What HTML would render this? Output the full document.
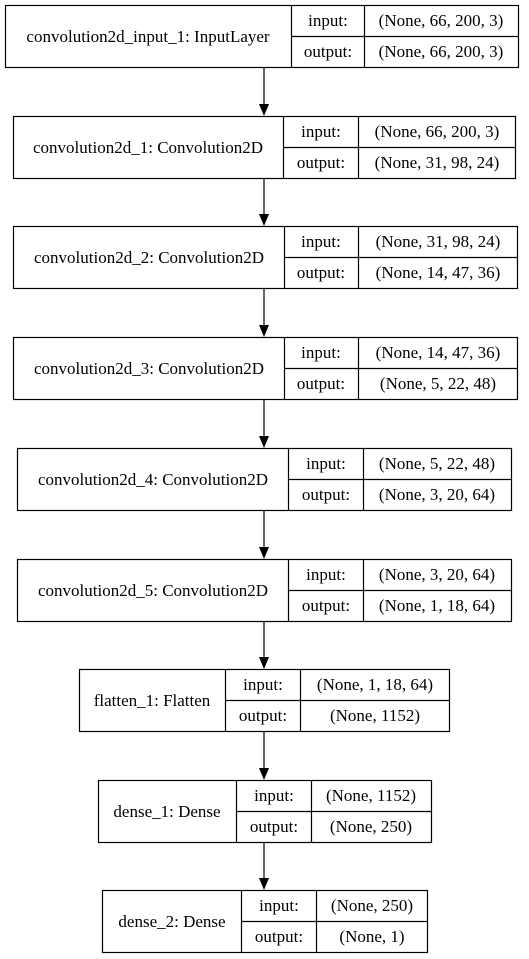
<!DOCTYPE html>
<html><head><meta charset="utf-8"><style>
html,body{margin:0;padding:0;background:#fff;}
svg{display:block;}
text{font-family:"Liberation Serif",serif;font-size:17px;fill:#000;}
</style></head><body>
<svg width="529" height="959" viewBox="0 0 529 959" xmlns="http://www.w3.org/2000/svg">
<g fill="none" stroke="#000" stroke-width="1.2">
<rect x="5.5" y="5.5" width="513" height="62"/><line x1="291.5" y1="5.5" x2="291.5" y2="67.5"/><line x1="364.5" y1="5.5" x2="364.5" y2="67.5"/><line x1="291.5" y1="36.5" x2="518.5" y2="36.5"/>
<rect x="13.5" y="116.5" width="502" height="62"/><line x1="283.5" y1="116.5" x2="283.5" y2="178.5"/><line x1="358.5" y1="116.5" x2="358.5" y2="178.5"/><line x1="283.5" y1="147.5" x2="515.5" y2="147.5"/>
<rect x="13.5" y="226.5" width="504" height="62"/><line x1="284.5" y1="226.5" x2="284.5" y2="288.5"/><line x1="358.5" y1="226.5" x2="358.5" y2="288.5"/><line x1="284.5" y1="257.5" x2="517.5" y2="257.5"/>
<rect x="13.5" y="337.5" width="504" height="62"/><line x1="284.5" y1="337.5" x2="284.5" y2="399.5"/><line x1="358.5" y1="337.5" x2="358.5" y2="399.5"/><line x1="284.5" y1="368.5" x2="517.5" y2="368.5"/>
<rect x="17.5" y="448.5" width="494" height="62"/><line x1="288.5" y1="448.5" x2="288.5" y2="510.5"/><line x1="363.5" y1="448.5" x2="363.5" y2="510.5"/><line x1="288.5" y1="479.5" x2="511.5" y2="479.5"/>
<rect x="17.5" y="559.5" width="494" height="62"/><line x1="288.5" y1="559.5" x2="288.5" y2="621.5"/><line x1="363.5" y1="559.5" x2="363.5" y2="621.5"/><line x1="288.5" y1="590.5" x2="511.5" y2="590.5"/>
<rect x="79.5" y="669.5" width="370" height="62"/><line x1="225.5" y1="669.5" x2="225.5" y2="731.5"/><line x1="300.5" y1="669.5" x2="300.5" y2="731.5"/><line x1="225.5" y1="700.5" x2="449.5" y2="700.5"/>
<rect x="98.5" y="780.5" width="333" height="62"/><line x1="236.5" y1="780.5" x2="236.5" y2="842.5"/><line x1="311.5" y1="780.5" x2="311.5" y2="842.5"/><line x1="236.5" y1="811.5" x2="431.5" y2="811.5"/>
<rect x="102.5" y="890.5" width="325" height="62"/><line x1="241.5" y1="890.5" x2="241.5" y2="952.5"/><line x1="316.5" y1="890.5" x2="316.5" y2="952.5"/><line x1="241.5" y1="921.5" x2="427.5" y2="921.5"/>
<line x1="264" y1="68" x2="264" y2="106"/>
<line x1="264" y1="179" x2="264" y2="216"/>
<line x1="264" y1="289" x2="264" y2="327"/>
<line x1="264" y1="400" x2="264" y2="438"/>
<line x1="264" y1="511" x2="264" y2="549"/>
<line x1="264" y1="622" x2="264" y2="659"/>
<line x1="264" y1="732" x2="264" y2="770"/>
<line x1="264" y1="843" x2="264" y2="880"/>
</g>
<g fill="#000">
<polygon points="259,104 269,104 264,116"/>
<polygon points="259,214 269,214 264,226"/>
<polygon points="259,325 269,325 264,337"/>
<polygon points="259,436 269,436 264,448"/>
<polygon points="259,547 269,547 264,559"/>
<polygon points="259,657 269,657 264,669"/>
<polygon points="259,768 269,768 264,780"/>
<polygon points="259,878 269,878 264,890"/>
</g>
<g text-anchor="middle">
<text x="148" y="42">convolution2d_input_1: InputLayer</text><text x="328" y="26">input:</text><text x="328" y="57">output:</text><text x="441" y="26">(None, 66, 200, 3)</text><text x="441" y="57">(None, 66, 200, 3)</text>
<text x="148" y="153">convolution2d_1: Convolution2D</text><text x="321" y="137">input:</text><text x="321" y="168">output:</text><text x="437" y="137">(None, 66, 200, 3)</text><text x="437" y="168">(None, 31, 98, 24)</text>
<text x="149" y="263">convolution2d_2: Convolution2D</text><text x="321" y="247">input:</text><text x="321" y="278">output:</text><text x="438" y="247">(None, 31, 98, 24)</text><text x="438" y="278">(None, 14, 47, 36)</text>
<text x="149" y="374">convolution2d_3: Convolution2D</text><text x="321" y="358">input:</text><text x="321" y="389">output:</text><text x="438" y="358">(None, 14, 47, 36)</text><text x="438" y="389">(None, 5, 22, 48)</text>
<text x="153" y="485">convolution2d_4: Convolution2D</text><text x="326" y="469">input:</text><text x="326" y="500">output:</text><text x="437" y="469">(None, 5, 22, 48)</text><text x="437" y="500">(None, 3, 20, 64)</text>
<text x="153" y="596">convolution2d_5: Convolution2D</text><text x="326" y="580">input:</text><text x="326" y="611">output:</text><text x="437" y="580">(None, 3, 20, 64)</text><text x="437" y="611">(None, 1, 18, 64)</text>
<text x="152" y="706">flatten_1: Flatten</text><text x="263" y="690">input:</text><text x="263" y="721">output:</text><text x="375" y="690">(None, 1, 18, 64)</text><text x="375" y="721">(None, 1152)</text>
<text x="167" y="817">dense_1: Dense</text><text x="274" y="801">input:</text><text x="274" y="832">output:</text><text x="371" y="801">(None, 1152)</text><text x="371" y="832">(None, 250)</text>
<text x="172" y="927">dense_2: Dense</text><text x="279" y="911">input:</text><text x="279" y="942">output:</text><text x="372" y="911">(None, 250)</text><text x="372" y="942">(None, 1)</text>
</g>
</svg>
</body></html>
